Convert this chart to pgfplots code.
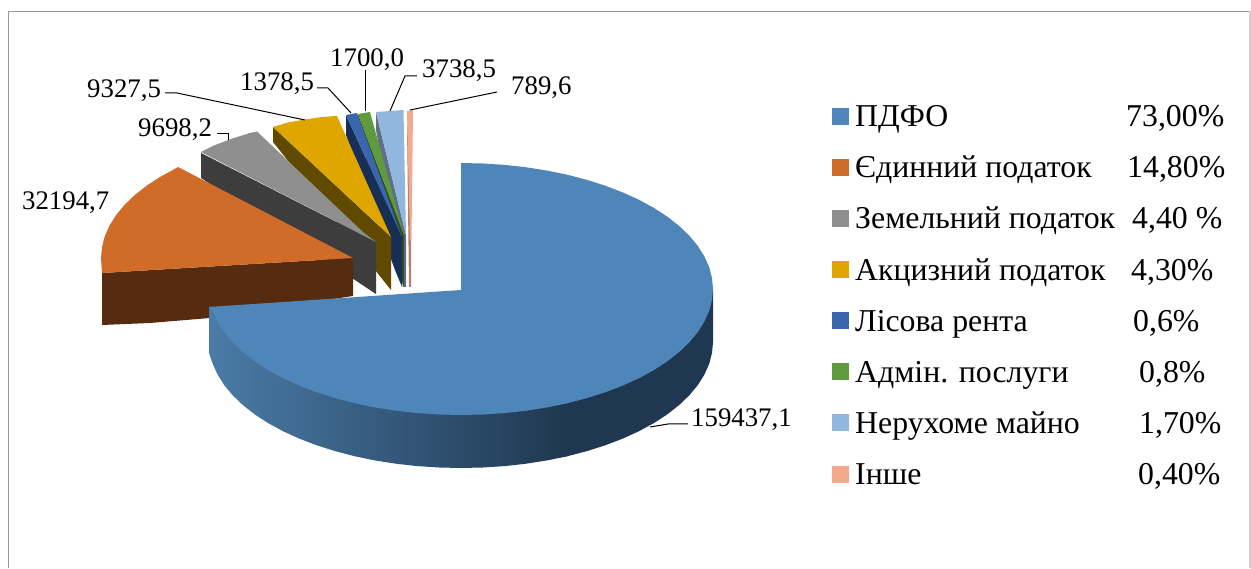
\documentclass[border=0pt]{standalone}
\usepackage{fontspec}
\setmainfont{Liberation Serif}
\usepackage{pgfplots}
\pgfplotsset{compat=1.18}
\definecolor{cBlue}{HTML}{4E86B9}
\definecolor{cBlueL}{HTML}{4A7BA7}
\definecolor{cBlueD}{HTML}{1F3750}
\definecolor{cOr}{HTML}{D06C28}
\definecolor{cOrD}{HTML}{562B10}
\definecolor{cGr}{HTML}{8F8F8F}
\definecolor{cGrD}{HTML}{3D3D3D}
\definecolor{cYe}{HTML}{E0A600}
\definecolor{cYeD}{HTML}{5F4A00}
\definecolor{cNa}{HTML}{3A66AE}
\definecolor{cNaD}{HTML}{172F55}
\definecolor{cGn}{HTML}{5F9A3E}
\definecolor{cGnD}{HTML}{2F4D1F}
\definecolor{cLb}{HTML}{92B7DF}
\definecolor{cLbD}{HTML}{5F6F85}
\definecolor{cPk}{HTML}{F2A98C}
\definecolor{cPkD}{HTML}{B08070}
\definecolor{cFrame}{HTML}{999999}
\definecolor{cFrameR}{HTML}{D0D0D0}
\tikzset{
  lab/.style={font=\fontsize{26.8}{30}\selectfont, inner sep=0pt, anchor=base west, text=black},
  leg/.style={font=\fontsize{31.8}{36}\selectfont, inner sep=0pt, anchor=base west, text=black},
  ldr/.style={draw=black, line width=1pt},
}
\begin{document}
\begin{tikzpicture}
\begin{axis}[
  scale only axis, width=1251pt, height=568pt,
  xmin=0, xmax=1251, ymin=0, ymax=568, y dir=reverse,
  hide axis, clip=false,
  every axis plot/.append style={no markers},
]
% page and frame
\addplot[draw=none, fill=white] coordinates {(0,0)(1251,0)(1251,568)(0,568)};
\addplot[draw=cFrame, line width=1.6pt] coordinates {(8.5,568)(8.5,11.5)(1250,11.5)};
\addplot[draw=cFrameR, line width=1.6pt] coordinates {(1250,11.5)(1250,568)};
% pink
\addplot[draw=none, fill=cPkD] coordinates {(407,111)(411,240)(411,287)(409,287)(407,125)};
\addplot[draw=none, fill=cPk] coordinates {(407,111)(413,110)(411.5,240)(410,240)};
% light blue
\addplot[draw=none, fill=cLbD] coordinates {(376,112)(406,235)(406,287)(403,287)(376,130)};
\addplot[draw=none, fill=cLb] coordinates {(376,112)(403.5,110)(406,235)};
% green
\addplot[draw=none, fill=cGnD] coordinates {(358,114)(404,235)(404,287)(358,132)};
\addplot[draw=none, fill=cGn] coordinates {(358,114)(370,112)(404,235)};
% navy
\addplot[draw=none, fill=cNaD] coordinates {(346,115)(402,237)(402,287)(395,270)(346,135)};
\addplot[draw=none, fill=cNa] coordinates {(346,115)(357,113)(402,237)};
% yellow
\addplot[draw=none, fill=cYeD] coordinates {(273,127)(391,237)(391,290)(273,142)};
\addplot[draw=none, fill=cYe] coordinates {(273,127)(288,122.5)(305,119.5)(322,117)(337,116)(391,237)};
% grey
\addplot[draw=none, fill=cGrD] coordinates {(201,153)(376,242)(376,294)(201,178)};
\addplot[draw=none, fill=cGr] coordinates {(201,152)(214,145.5)(231.5,138.8)(250,133)(257,131.5)(364,233)(376,242)};
% orange
\addplot[draw=none, fill=cOrD] coordinates {(102,273)(353,258)(353,296)(210,318)(150,323)(102,325)};
\addplot[draw=none, fill=cOr] coordinates {(102,273)(101,258)(102,247)(104.8,236.1)(109.6,225.4)(116.2,214.9)(124.6,204.8)(134.8,195)(146.6,185.7)(160,177)(174.8,168.9)(178,167)(353,258)};
% blue side, right part
\addplot[draw=none, fill=cBlueD] coordinates {(713,289)(713,342)(712,353)(709.2,363.9)(704.4,374.6)(697.8,385.1)(689.4,395.2)(679.2,405)(667.4,414.3)(654,423)(639.2,431.1)(623,438.5)(605.5,445.2)(587,451.1)(567.5,456.2)(560,457.5)(560,300)};
% blue side, left part
\addplot[draw=none, left color=cBlueL, right color=cBlueD] coordinates {(567.5,456.2)(547.2,460.4)(526.2,463.7)(504.7,466.1)(483,467.5)(461,468)(439,467.5)(417.3,466.1)(395.8,463.7)(374.8,460.4)(354.5,456.2)(335,451.1)(316.5,445.2)(299,438.5)(282.8,431.1)(268,423)(254.6,414.3)(242.8,405)(232.6,395.2)(224.2,385.1)(217.6,374.6)(212.8,364)(210,356)(209,348)(209,307)(567.5,300)};
% blue top
\addplot[draw=none, fill=cBlue] coordinates {(461,163)(483,163.5)(504.7,164.9)(526.2,167.3)(547.2,170.6)(567.5,174.8)(587,179.9)(605.5,185.8)(623,192.5)(639.2,199.9)(654,208)(667.4,216.7)(679.2,226)(689.4,235.8)(697.8,245.9)(704.4,256.4)(709.2,267.1)(712,278)(713,289)(712,300)(709.2,310.9)(704.4,321.6)(697.8,332.1)(689.4,342.2)(679.2,352)(667.4,361.3)(654,370)(639.2,378.1)(623,385.5)(605.5,392.2)(587,398.1)(567.5,403.2)(547.2,407.4)(526.2,410.7)(504.7,413.1)(483,414.5)(461,415)(439,414.5)(417.3,413.1)(395.8,410.7)(374.8,407.4)(354.5,403.2)(335,398.1)(316.5,392.2)(299,385.5)(282.8,378.1)(268,370)(254.6,361.3)(242.8,352)(232.6,342.2)(224.2,332.1)(217.6,321.6)(212.8,310.9)(209,307)(461,290)};
% leader lines
\addplot[ldr] coordinates {(165,93)(177,93)(305,120)};
\addplot[ldr] coordinates {(217,134)(228,134)(228,140)};
\addplot[ldr] coordinates {(317,88)(328,88)(351,113)};
\addplot[ldr] coordinates {(365,70)(365,111)};
\addplot[ldr] coordinates {(417,76)(405,76)(390,111)};
\addplot[ldr] coordinates {(410,110)(497,92)};
\addplot[ldr] coordinates {(650,427)(668,424)(688,424)};
% data labels
\node[lab] at (axis cs:691,427) {159437,1};
\node[lab] at (axis cs:22,210) {32194,7};
\node[lab] at (axis cs:138,137) {9698,2};
\node[lab] at (axis cs:87,98) {9327,5};
\node[lab] at (axis cs:240,91) {1378,5};
\node[lab] at (axis cs:330,67) {1700,0};
\node[lab] at (axis cs:422,78) {3738,5};
\node[lab] at (axis cs:511,95) {789,6};
% legend keys
\addplot[draw=none, fill=cBlue] coordinates {(832,108)(849,108)(849,125)(832,125)};
\addplot[draw=none, fill=cOr] coordinates {(832,159)(849,159)(849,176)(832,176)};
\addplot[draw=none, fill=cGr] coordinates {(832,210)(849,210)(849,227)(832,227)};
\addplot[draw=none, fill=cYe] coordinates {(832,261)(849,261)(849,278)(832,278)};
\addplot[draw=none, fill=cNa] coordinates {(832,312)(849,312)(849,329)(832,329)};
\addplot[draw=none, fill=cGn] coordinates {(832,363)(849,363)(849,380)(832,380)};
\addplot[draw=none, fill=cLb] coordinates {(832,414)(849,414)(849,431)(832,431)};
\addplot[draw=none, fill=cPk] coordinates {(832,466)(849,466)(849,483)(832,483)};
% legend text
\node[leg] at (axis cs:855,127) {ПДФО};
\node[leg] at (axis cs:855,178) {Єдинний податок};
\node[leg] at (axis cs:855,229) {Земельний податок};
\node[leg] at (axis cs:855,281) {Акцизний податок};
\node[leg] at (axis cs:855,332) {Лісова рента};
\node[leg] at (axis cs:855,383) {Адмін. послуги};
\node[leg] at (axis cs:855,434) {Нерухоме майно};
\node[leg] at (axis cs:855,485) {Інше};
\node[leg] at (axis cs:1126,127) {73,00\%};
\node[leg] at (axis cs:1127,178) {14,80\%};
\node[leg] at (axis cs:1132,229) {4,40 \%};
\node[leg] at (axis cs:1131,281) {4,30\%};
\node[leg] at (axis cs:1133,332) {0,6\%};
\node[leg] at (axis cs:1139,383) {0,8\%};
\node[leg] at (axis cs:1139,434) {1,70\%};
\node[leg] at (axis cs:1138,485) {0,40\%};
\end{axis}
\end{tikzpicture}
\end{document}
